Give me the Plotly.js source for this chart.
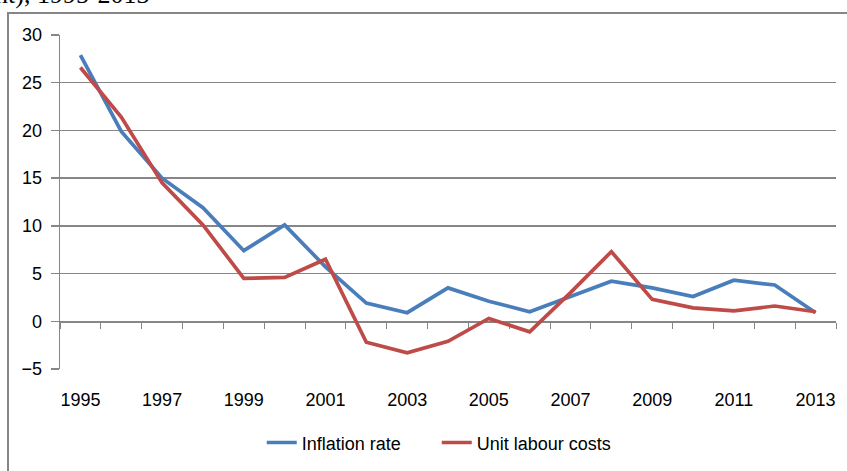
<!DOCTYPE html>
<html>
<head>
<meta charset="utf-8">
<script src="https://cdn.plot.ly/plotly-3.0.1.min.js"></script>
<style>html,body{margin:0;padding:0;background:#fff;}#chart{width:847px;height:471px;}</style>
</head>
<body>
<div id="chart"></div>
<script>
// Data
var years = [1995, 1996, 1997, 1998, 1999, 2000, 2001, 2002, 2003, 2004, 2005, 2006, 2007, 2008, 2009, 2010, 2011, 2012, 2013];
var inflationRate = [27.9, 19.9, 15.0, 11.9, 7.4, 10.1, 5.7, 1.9, 0.9, 3.5, 2.1, 1.0, 2.6, 4.2, 3.5, 2.6, 4.3, 3.8, 0.9];
var unitLabourCosts = [26.6, 21.4, 14.5, 10.1, 4.5, 4.6, 6.5, -2.2, -3.3, -2.1, 0.3, -1.1, 3.0, 7.3, 2.3, 1.4, 1.1, 1.6, 1.0];
var yearLabels = ["1995", "1997", "1999", "2001", "2003", "2005", "2007", "2009", "2011", "2013"];
var yTicks = [-5, 0, 5, 10, 15, 20, 25, 30];
var seriesNames = ["Inflation rate", "Unit labour costs"];
var titleText = "Inflation rate and unit labour costs (in per cent), 1995-2013";

var labelYears = yearLabels.map(Number);
var boundaries = years.map(function (y) { return y - 0.5; }).concat([years[years.length - 1] + 0.5]);
var xRange = [years[0] - 0.5, years[years.length - 1] + 0.5];
var yRange = [yTicks[0], yTicks[yTicks.length - 1]];

var font = {family: "Liberation Sans, Arial, sans-serif", size: 18, color: "#000"};
var gray = "#868686";

var traces = [
  {x: years, y: inflationRate, name: seriesNames[0], type: "scatter", mode: "lines",
   line: {color: "#4a7ebb", width: 3.7}, hoverinfo: "x+y"},
  {x: years, y: unitLabourCosts, name: seriesNames[1], type: "scatter", mode: "lines",
   line: {color: "#be4b48", width: 3.7}, hoverinfo: "x+y"}
];

var layout = {
  width: 847, height: 471,
  margin: {l: 60, r: 10.5, t: 35, b: 101.7, pad: 0, autoexpand: false},
  paper_bgcolor: "#fff", plot_bgcolor: "#fff",
  font: font,
  showlegend: true,
  legend: {orientation: "h", x: 0.4855, xanchor: "center", y: -0.221, yanchor: "middle",
           font: font, entrywidth: 130, entrywidthmode: "pixels", bgcolor: "rgba(0,0,0,0)"},
  xaxis: {
    type: "linear", range: xRange, tickmode: "array", tickvals: labelYears, ticktext: yearLabels,
    ticks: "", showline: false, showgrid: false, zeroline: false, ticklabelstandoff: 18,
    tickfont: font, fixedrange: true, automargin: false
  },
  xaxis2: {
    overlaying: "x", anchor: "free", position: (0 - yRange[0]) / (yRange[1] - yRange[0]),
    type: "linear", range: xRange, tickmode: "array", tickvals: boundaries,
    ticks: "outside", ticklen: 6, tickcolor: gray, tickwidth: 1,
    showticklabels: false, showline: true, linecolor: gray, linewidth: 1.3,
    showgrid: false, zeroline: false, layer: "below traces", fixedrange: true
  },
  yaxis: {
    range: yRange, tickmode: "array", tickvals: yTicks,
    ticks: "outside", ticklen: 8, tickcolor: gray, tickwidth: 1.3,
    showline: true, linecolor: gray, linewidth: 1.3,
    showgrid: true, gridcolor: gray, gridwidth: 1.3, zeroline: false,
    ticklabelstandoff: 5, tickfont: font, layer: "below traces", fixedrange: true, automargin: false
  },
  shapes: [
    {type: "rect", xref: "paper", yref: "paper", x0: -0.067, x1: 1.05, y0: -0.4, y1: 1.066,
     line: {color: gray, width: 2}, fillcolor: "rgba(0,0,0,0)", layer: "below"}
  ],
  annotations: [
    {xref: "paper", yref: "paper", x: (152 - 60) / 776.5, y: (369.3 - 11) / 334.3,
     xanchor: "right", yanchor: "bottom", showarrow: false, text: titleText,
     font: {family: "Liberation Serif, Times New Roman, serif", size: 26, color: "#000"}}
  ]
};

// invisible trace binding xaxis2 so the zero-line axis with its ticks renders
traces.push({x: xRange, y: [null, null], xaxis: "x2", yaxis: "y", showlegend: false,
             hoverinfo: "skip", mode: "lines", type: "scatter"});

Plotly.newPlot("chart", traces, layout, {displayModeBar: false, staticPlot: true});
</script>
</body>
</html>
